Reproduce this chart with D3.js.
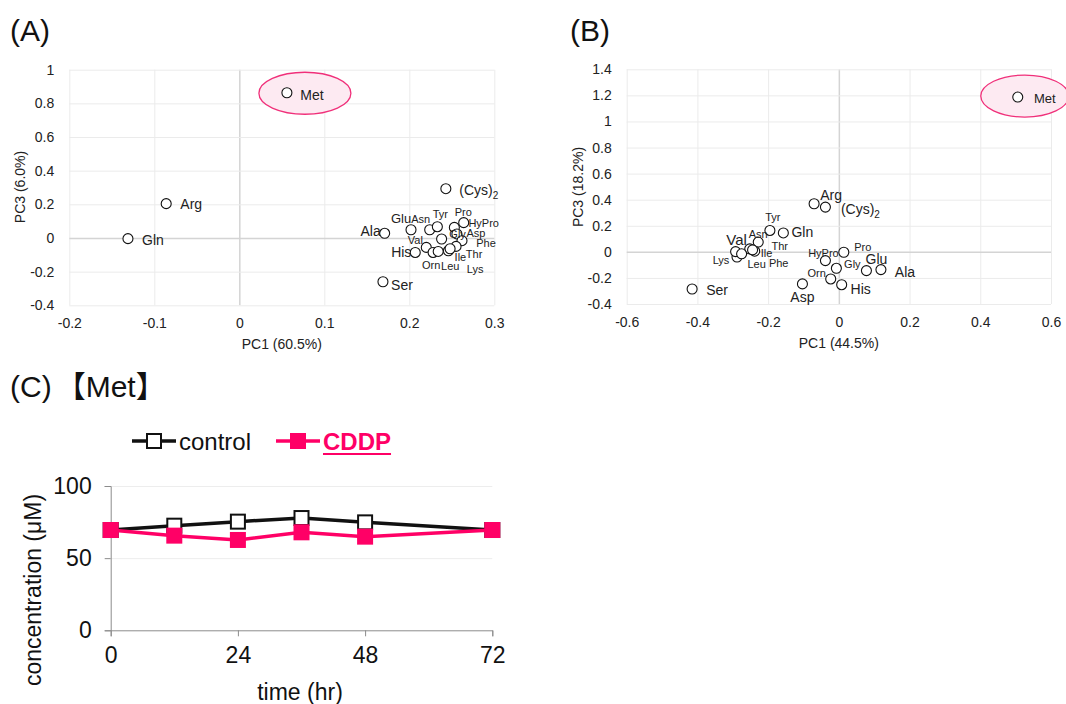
<!DOCTYPE html>
<html><head><meta charset="utf-8">
<script src="https://cdn.jsdelivr.net/npm/d3@7"></script>
<style>
body{margin:0;background:#fff}
svg{display:block;font-family:"Liberation Sans",Arial,sans-serif}
</style>
</head><body>
<svg id="chart" width="1066" height="704"></svg>
<script>
// ---------------- DATA ----------------
const aminoNames = ["Met","(Cys)2","Arg","Gln","Ser","Ala","Glu","Asn","Tyr","Pro","HyPro","Gly","Asp","Phe","Thr","Ile","Lys","Val","His","Orn","Leu"];
const pcaA_pc1 = [0.056,0.243,-0.086,-0.131,0.169,0.171,0.202,0.224,0.233,0.253,0.264,0.238,0.256,0.262,0.255,0.246,0.248,0.220,0.207,0.228,0.234];
const pcaA_pc3 = [0.863,0.293,0.204,-0.004,-0.260,0.028,0.049,0.049,0.067,0.063,0.091,-0.006,0.024,-0.016,-0.050,-0.076,-0.064,-0.056,-0.086,-0.086,-0.080];
const pcaB_pc1 = [0.506,-0.038,-0.070,-0.157,-0.415,0.119,0.078,-0.228,-0.195,0.014,-0.038,-0.007,-0.103,-0.238,-0.252,-0.244,-0.288,-0.292,0.008,-0.023,-0.275];
const pcaB_pc3 = [1.187,0.343,0.369,0.145,-0.285,-0.136,-0.144,0.075,0.164,-0.003,-0.067,-0.126,-0.246,0.005,0.023,0.015,-0.040,0.002,-0.252,-0.208,-0.015];
const xTicksA = [-0.2,-0.1,0,0.1,0.2,0.3];
const yTicksA = [-0.4,-0.2,0,0.2,0.4,0.6,0.8,1];
const xTicksB = [-0.6,-0.4,-0.2,0,0.2,0.4,0.6];
const yTicksB = [-0.4,-0.2,0,0.2,0.4,0.6,0.8,1,1.2,1.4];
const timeHr = [0,12,24,36,48,72];
const metControl = [69.5,72.5,75.3,77.8,74.8,69.5];
const metCDDP = [69.5,65.6,62.6,67.9,64.9,69.5];
const timeTicks = [0,24,48,72];
const concTicks = [0,50,100];
const seriesNames = ["control","CDDP"];

// ---------------- LAYOUT (label placement, px offsets) ----------------
const labelLayoutA = {
  "Met":[25,2,14],"(Cys)2":[33,1,14],"Arg":[25,0,14],"Gln":[25,1,14],"Ser":[19,3,14],"Ala":[-14,-2,14],
  "Glu":[-10,-11,13],"Asn":[-9,-11,11],"Tyr":[3,-13,11],"Pro":[9,-15,11],"HyPro":[20,0,11],"Gly":[16,-5,11],
  "Asp":[19,-1,11],"Phe":[24,2,11],"Thr":[18,8,11],"Ile":[12,6,11],"Lys":[25,20,11],"Val":[-11,-7,11],
  "His":[-14,0,14],"Orn":[-2,13,11],"Leu":[12,15,11]};
const labelLayoutB = {
  "Met":[27,1,13],"(Cys)2":[35,2,14],"Arg":[17,-9,14],"Gln":[19,-1,14],"Ser":[25,1,14],"Ala":[24,2,14],
  "Glu":[10,-12,14],"Asn":[0,-8,11],"Tyr":[3,-13,11],"Pro":[19,-5,11],"HyPro":[-2,-8,11],"Gly":[16,-4,11],
  "Asp":[0,13,14],"Phe":[24,12,11],"Thr":[30,-3,11],"Ile":[14,3,11],"Lys":[-16,3,11],"Val":[1,-12,15],
  "His":[19,4,14],"Orn":[-14,-6,11],"Leu":[15,10,11]};

const svg = d3.select("#chart");
const PINK = "#FF0066";
const plainNum = d => String(d);

function scatterPanel(cfg){
  const g = svg.append("g");
  const x = d3.scaleLinear().domain(cfg.xDom).range(cfg.xRange);
  const y = d3.scaleLinear().domain(cfg.yDom).range(cfg.yRange);
  // grid
  g.append("g").attr("transform",`translate(0,${cfg.yRange[0]})`)
    .call(d3.axisBottom(x).tickValues(cfg.xTicks).tickSize(-(cfg.yRange[0]-cfg.yRange[1])).tickFormat(""))
    .call(s=>s.select(".domain").remove())
    .call(s=>s.selectAll("line").attr("stroke",d=>d===0?"#D4D4D4":"#EBEBEB").attr("stroke-width",d=>d===0?1.5:1));
  g.append("g").attr("transform",`translate(${cfg.xRange[0]},0)`)
    .call(d3.axisLeft(y).tickValues(cfg.yTicks).tickSize(-(cfg.xRange[1]-cfg.xRange[0])).tickFormat(""))
    .call(s=>s.select(".domain").remove())
    .call(s=>s.selectAll("line").attr("stroke",d=>d===0?"#D4D4D4":"#EBEBEB").attr("stroke-width",d=>d===0?1.5:1));
  // tick labels
  g.append("g").attr("transform",`translate(0,${cfg.yRange[0]+10})`)
    .call(d3.axisBottom(x).tickValues(cfg.xTicks).tickSize(0).tickFormat(plainNum))
    .call(s=>s.select(".domain").remove())
    .call(s=>s.selectAll("text").attr("font-size",14).attr("fill","#222").attr("font-family","Liberation Sans, Arial"));
  g.append("g").attr("transform",`translate(${cfg.xRange[0]-12},0)`)
    .call(d3.axisLeft(y).tickValues(cfg.yTicks).tickSize(0).tickFormat(plainNum))
    .call(s=>s.select(".domain").remove())
    .call(s=>s.selectAll("text").attr("font-size",14).attr("fill","#222").attr("font-family","Liberation Sans, Arial"));
  // axis titles
  g.append("text").attr("x",(cfg.xRange[0]+cfg.xRange[1])/2).attr("y",cfg.yRange[0]+44)
    .attr("text-anchor","middle").attr("font-size",14).attr("fill","#222").text(cfg.xTitle);
  g.append("text").attr("transform",`translate(${cfg.yTitleX},187) rotate(-90)`)
    .attr("text-anchor","middle").attr("dominant-baseline","central").attr("font-size",14).attr("fill","#222").text(cfg.yTitle);
  // panel letter
  g.append("text").attr("x",cfg.letterX).attr("y",41).attr("font-size",30).attr("fill","#111").text(cfg.letter);
  // highlight ellipse around Met
  const mi = aminoNames.indexOf("Met");
  g.append("ellipse").attr("cx",x(cfg.px[mi])+cfg.ell[0]).attr("cy",y(cfg.py[mi])+cfg.ell[1])
    .attr("rx",cfg.ell[2]).attr("ry",cfg.ell[3]).attr("fill","#FDEAF2").attr("stroke","#F0307A").attr("stroke-width",1.3);
  // points
  g.append("g").selectAll("circle").data(aminoNames).join("circle")
    .attr("cx",(d,i)=>x(cfg.px[i])).attr("cy",(d,i)=>y(cfg.py[i])).attr("r",5)
    .attr("fill","#fff").attr("stroke","#111").attr("stroke-width",1.1);
  // labels
  const lab = g.append("g").selectAll("text").data(aminoNames).join("text")
    .attr("x",(d,i)=>x(cfg.px[i])+cfg.labels[d][0]).attr("y",(d,i)=>y(cfg.py[i])+cfg.labels[d][1])
    .attr("text-anchor","middle").attr("dominant-baseline","central")
    .attr("font-size",d=>cfg.labels[d][2]).attr("fill","#222");
  lab.each(function(d){
    const t = d3.select(this);
    if(d==="(Cys)2"){
      t.append("tspan").text("(Cys)");
      t.append("tspan").attr("font-size",10).attr("dy",5).text("2");
    } else t.text(d);
  });
}

scatterPanel({xDom:[-0.2,0.3],xRange:[69.3,494.3],yDom:[-0.4,1],yRange:[305.3,69.7],
  xTicks:xTicksA,yTicks:yTicksA,px:pcaA_pc1,py:pcaA_pc3,labels:labelLayoutA,
  xTitle:"PC1 (60.5%)",yTitle:"PC3 (6.0%)",yTitleX:20,letter:"(A)",letterX:10,ell:[18,0.5,46,21]});
scatterPanel({xDom:[-0.6,0.6],xRange:[626.7,1051],yDom:[-0.4,1.4],yRange:[304,69.3],
  xTicks:xTicksB,yTicks:yTicksB,px:pcaB_pc1,py:pcaB_pc3,labels:labelLayoutB,
  xTitle:"PC1 (44.5%)",yTitle:"PC3 (18.2%)",yTitleX:578,letter:"(B)",letterX:570,ell:[7,-1,44,21]});

// ---------------- PANEL C ----------------
(function(){
  const g = svg.append("g");
  const x = d3.scaleLinear().domain([0,72]).range([110.7,492.3]);
  const y = d3.scaleLinear().domain([0,100]).range([630.3,486]);
  // title
  const t = g.append("text").attr("x",10).attr("y",397).attr("font-size",30).attr("fill","#111");
  t.append("tspan").text("(C)");
  t.append("tspan").attr("font-family","Noto Sans CJK JP").attr("dx",4).text("【");
  t.append("tspan").text("Met");
  t.append("tspan").attr("font-family","Noto Sans CJK JP").text("】");
  // gridlines
  g.append("g").attr("transform",`translate(${x.range()[0]},0)`)
    .call(d3.axisLeft(y).tickValues(concTicks.filter(v=>v>0)).tickSize(-(x.range()[1]-x.range()[0])).tickFormat(""))
    .call(s=>s.select(".domain").remove())
    .call(s=>s.selectAll("line").attr("stroke","#EDEDED"));
  // axes
  g.append("g").attr("transform",`translate(${x.range()[0]},0)`)
    .call(d3.axisLeft(y).tickValues(concTicks).tickSize(6).tickPadding(13).tickFormat(plainNum))
    .call(s=>s.select(".domain").attr("stroke","#8C8C8C"))
    .call(s=>s.selectAll("line").attr("stroke","#8C8C8C"))
    .call(s=>s.selectAll("text").attr("font-size",23).attr("fill","#111").attr("font-family","Liberation Sans, Arial"));
  g.append("g").attr("transform",`translate(0,${y.range()[0]})`)
    .call(d3.axisBottom(x).tickValues(timeTicks).tickSize(6).tickPadding(10).tickFormat(plainNum))
    .call(s=>s.select(".domain").attr("stroke","#8C8C8C"))
    .call(s=>s.selectAll("line").attr("stroke","#8C8C8C"))
    .call(s=>s.selectAll("text").attr("font-size",23).attr("fill","#111").attr("font-family","Liberation Sans, Arial"));
  g.append("text").attr("x",300).attr("y",692).attr("text-anchor","middle").attr("dominant-baseline","central")
    .attr("font-size",23).attr("fill","#111").text("time (hr)");
  g.append("text").attr("transform","translate(33,590) rotate(-90)").attr("text-anchor","middle").attr("dominant-baseline","central")
    .attr("font-size",23).attr("fill","#111").text("concentration (μM)");
  const line = d3.line().x((d,i)=>x(timeHr[i])).y(d=>y(d));
  const series = [
    {name:seriesNames[0],vals:metControl,stroke:"#111",fill:"#fff"},
    {name:seriesNames[1],vals:metCDDP,stroke:PINK,fill:PINK}];
  series.forEach(s=>{
    g.append("path").attr("d",line(s.vals)).attr("fill","none").attr("stroke",s.stroke).attr("stroke-width",3.5);
    g.append("g").selectAll("rect").data(s.vals).join("rect")
      .attr("x",(d,i)=>x(timeHr[i])-7).attr("y",d=>y(d)-7).attr("width",14).attr("height",14)
      .attr("fill",s.fill).attr("stroke",s.stroke).attr("stroke-width",2);
  });
  // legend
  const lg = g.append("g");
  const legendPos = [{lx:132,tx:179},{lx:276,tx:323}];
  series.forEach((s,i)=>{
    const p = legendPos[i];
    lg.append("line").attr("x1",p.lx).attr("x2",p.lx+44).attr("y1",441).attr("y2",441).attr("stroke",s.stroke).attr("stroke-width",3.5);
    lg.append("rect").attr("x",p.lx+15).attr("y",434).attr("width",14).attr("height",14).attr("fill",s.fill).attr("stroke",s.stroke).attr("stroke-width",2);
    const tx = lg.append("text").attr("x",p.tx).attr("y",441).attr("dominant-baseline","central").attr("font-size",24)
      .attr("fill",i===0?"#111":PINK).attr("font-weight",i===0?"normal":"bold").text(s.name);
    if(i===1){
      const w = tx.node().getComputedTextLength();
      lg.append("line").attr("x1",p.tx).attr("x2",p.tx+w).attr("y1",454).attr("y2",454).attr("stroke",PINK).attr("stroke-width",2);
    }
  });
})();
</script>
</body></html>
